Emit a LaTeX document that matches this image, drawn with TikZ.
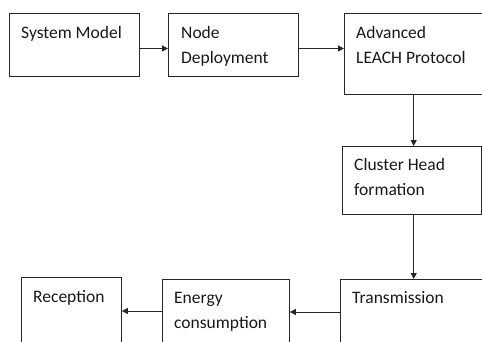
\documentclass[tikz,border=0pt]{standalone}
\usepackage{fontspec}
\setmainfont{Carlito}
\usetikzlibrary{arrows.meta}
\begin{document}
\begin{tikzpicture}[x=1pt,y=-1pt,
  box/.style={draw=black!85, line width=0.9pt, anchor=north west, inner sep=0pt, rectangle},
  lbl/.style={anchor=base west, inner sep=0pt, font=\fontsize{17.5}{25}\selectfont, text=black!90},
  arr/.style={draw=black!85, line width=0.9pt, -{Triangle[length=6pt,width=6pt]}}]
\useasboundingbox (0,0) rectangle (482,341);
\clip (0,0) rectangle (482,341);
\fill[white] (0,0) rectangle (482,341);
% boxes
\node[box, minimum width=130pt, minimum height=63pt] (b1) at (9,13) {};
\node[box, minimum width=130pt, minimum height=63pt] (b2) at (168,13) {};
\node[box, minimum width=150pt, minimum height=81pt] (b3) at (344,13) {};
\node[box, minimum width=138.5pt, minimum height=68pt] (b4) at (342,146) {};
\node[box, minimum width=160pt, minimum height=80pt] (b5) at (340,279) {};
\node[box, minimum width=127pt, minimum height=80pt] (b6) at (162,279) {};
\node[box, minimum width=100pt, minimum height=80pt] (b7) at (21,277) {};
% labels
\node[lbl] (t1) at (21,38) {System Model};
\node[lbl] (t2a) at (181,38) {Node};
\node[lbl] (t2b) at (181,63) {Deployment};
\node[lbl] (t3a) at (356,38) {Advanced};
\node[lbl] (t3b) at (356,63) {LEACH Protocol};
\node[lbl] (t4a) at (354,170) {Cluster Head};
\node[lbl] (t4b) at (354,195) {formation};
\node[lbl] (t5) at (352,303) {Transmission};
\node[lbl] (t6a) at (174,303) {Energy};
\node[lbl] (t6b) at (174,328) {consumption};
\node[lbl] (t7) at (33,302) {Reception};
% connectors
\draw[arr] ([yshift=-3.5pt]b1.east) -- ([yshift=-3.5pt]b1.east -| b2.west);
\draw[arr] ([yshift=-3.5pt]b2.east) -- ([yshift=-3.5pt]b2.east -| b3.west);
\draw[arr] ([xshift=2pt]b4.north |- b3.south) -- ([xshift=2pt]b4.north);
\draw[arr] ([xshift=2pt]b4.south) -- ([xshift=2pt]b4.south |- b5.north);
\draw[arr] ([yshift=-33pt]b5.north west) -- ([yshift=-33pt]b5.north west -| b6.east);
\draw[arr] ([yshift=-32pt]b6.north west) -- ([yshift=-32pt]b6.north west -| b7.east);
\end{tikzpicture}
\end{document}
